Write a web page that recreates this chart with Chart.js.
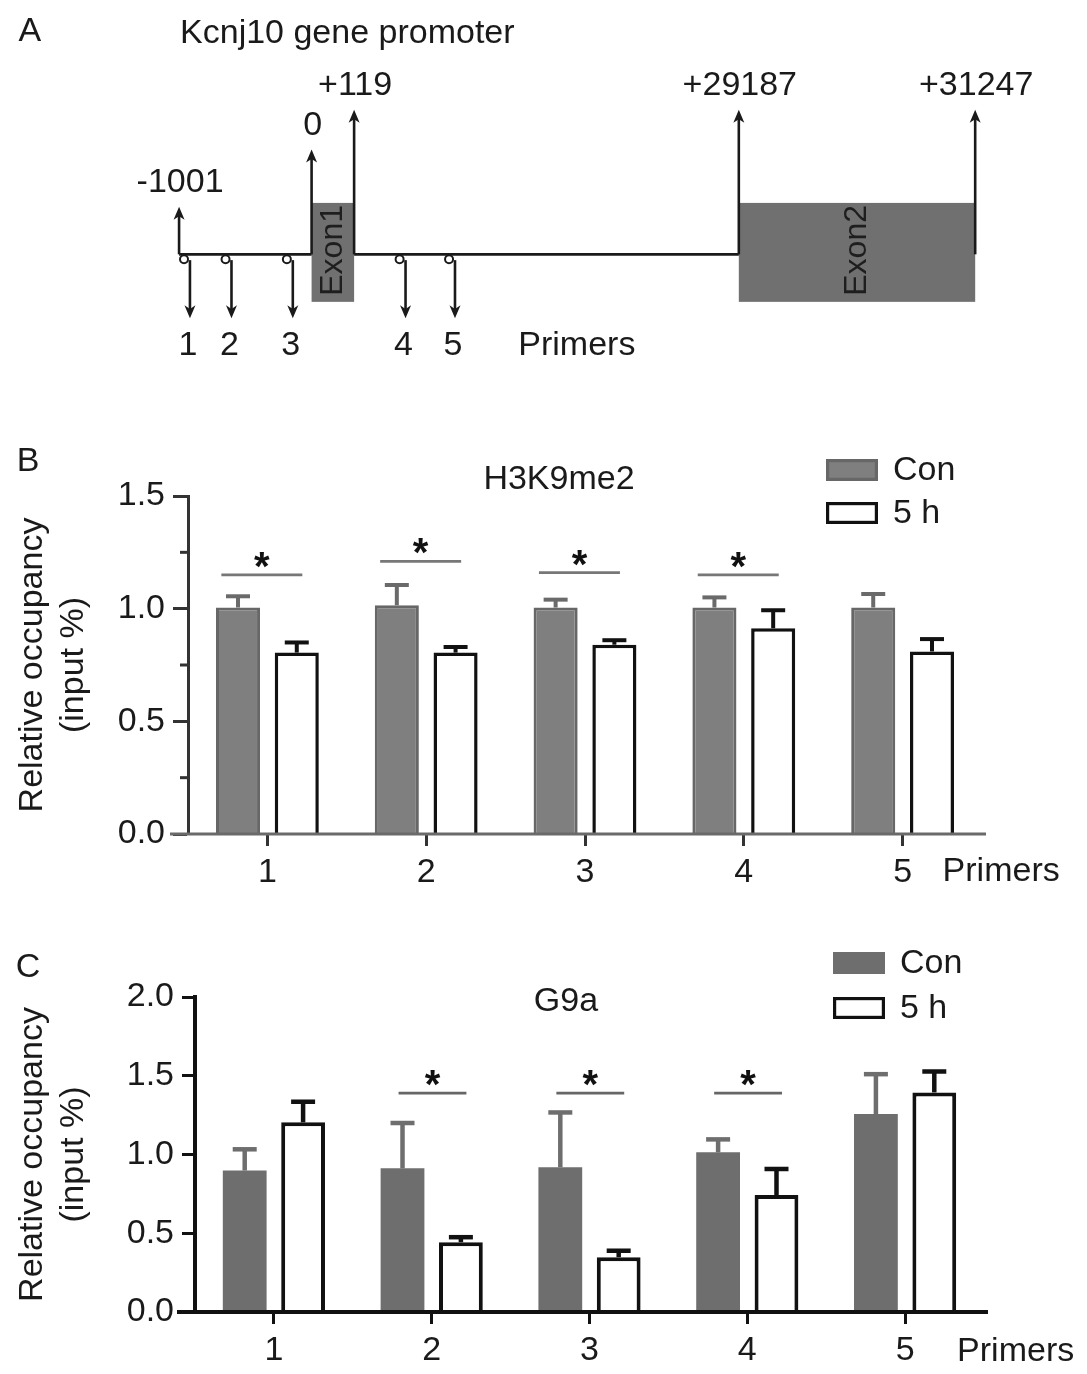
<!DOCTYPE html>
<html><head><meta charset="utf-8">
<script src="https://cdn.jsdelivr.net/npm/chart.js@4.4.1/dist/chart.umd.min.js"></script>
<style>
html,body{margin:0;padding:0;background:#fff;}
body{width:1087px;height:1374px;position:relative;overflow:hidden;}
.panel{position:absolute;left:0;width:1087px;}
</style></head><body>
<div class="panel" style="top:0;height:400px"><canvas id="cA"></canvas></div>
<div class="panel" style="top:440px;height:460px"><canvas id="cB"></canvas></div>
<div class="panel" style="top:930px;height:444px"><canvas id="cC"></canvas></div>
<script>
// ---------------- data ----------------
const primers = ['1', '2', '3', '4', '5'];
const seriesNames = ['Con', '5 h'];

// Panel B : H3K9me2 relative occupancy (input %)
const h3k9Con    = [1.005, 1.015, 1.005, 1.005, 1.005];
const h3k9ConErr = [0.050, 0.090, 0.035, 0.045, 0.060];
const h3k95h     = [0.805, 0.805, 0.840, 0.913, 0.810];
const h3k95hErr  = [0.045, 0.025, 0.020, 0.080, 0.055];
const h3k9Sig    = [1.15, 1.21, 1.16, 1.15, null];   // significance bar levels (* p<0.05)

// Panel C : G9a relative occupancy (input %)
const g9aCon    = [0.898, 0.912, 0.919, 1.014, 1.257];
const g9aConErr = [0.135, 0.288, 0.348, 0.082, 0.253];
const g9a5h     = [1.204, 0.443, 0.348, 0.743, 1.394];
const g9a5hErr  = [0.131, 0.032, 0.041, 0.165, 0.133];
const g9aSig    = [null, 1.39, 1.39, 1.39, null];

// Panel A : Kcnj10 gene map (schematic, not to scale)
const siteLabels = ['-1001', '0', '+119', '+29187', '+31247'];
const exonLabels = ['Exon1', 'Exon2'];
const primerLabels = primers;
// schematic layout (diagram units)
const siteTrackPos = [0, 134, 177, 566, 805];
const siteArrowHeight = [49, 108, 149, 149, 149];
const primerTrackPos = [11, 53, 115, 229, 279];

const FONT = "'Liberation Sans', Arial, Helvetica, sans-serif";
Chart.defaults.font.family = FONT;
Chart.defaults.color = '#1a1a1a';

// ---------------- Panel A ----------------
function vArrow(ctx, x, yFrom, yTo, w, len) {
  const dir = Math.sign(yTo - yFrom);
  ctx.beginPath(); ctx.moveTo(x, yFrom); ctx.lineTo(x, yTo - dir * len * 0.7); ctx.stroke();
  ctx.beginPath();
  ctx.moveTo(x, yTo);
  ctx.lineTo(x - w / 2, yTo - dir * len);
  ctx.lineTo(x, yTo - dir * len * 0.72);
  ctx.lineTo(x + w / 2, yTo - dir * len);
  ctx.closePath(); ctx.fill();
}

const geneMap = {
  id: 'geneMap',
  beforeDatasetsDraw(chart) {
    const {ctx, scales: {x, y}} = chart;
    ctx.save();
    const exons = [[1, 2], [3, 4]];
    ctx.fillStyle = '#707070';
    exons.forEach(([a, b], k) => {
      const xa = x.getPixelForValue(siteTrackPos[a]), xb = x.getPixelForValue(siteTrackPos[b]);
      const yt = y.getPixelForValue(53), yb = y.getPixelForValue(-49);
      ctx.fillRect(xa, yt, xb - xa, yb - yt);
      ctx.save();
      ctx.translate((xa + xb) / 2, (yt + yb) / 2 - 2);
      ctx.rotate(-Math.PI / 2);
      ctx.fillStyle = '#1e1e1e';
      ctx.font = `32px ${FONT}`;
      ctx.textAlign = 'center'; ctx.textBaseline = 'middle';
      ctx.fillText(exonLabels[k], 0, 0);
      ctx.restore();
    });
    ctx.restore();
  },
  afterDatasetsDraw(chart) {
    const {ctx, scales: {x, y}} = chart;
    ctx.save();
    ctx.strokeStyle = '#1a1a1a'; ctx.fillStyle = '#1a1a1a'; ctx.lineWidth = 2.6;
    const yb = y.getPixelForValue(0);
    siteTrackPos.forEach((p, i) => {
      const px = x.getPixelForValue(p);
      vArrow(ctx, px, yb, y.getPixelForValue(siteArrowHeight[i]), 11, 13);
      ctx.font = `34px ${FONT}`;
      ctx.textAlign = 'center'; ctx.textBaseline = 'middle';
      ctx.fillText(siteLabels[i], px + 1, y.getPixelForValue(siteArrowHeight[i] + 25));
    });
    primerTrackPos.forEach((p, i) => {
      const px = x.getPixelForValue(p);
      vArrow(ctx, px, y.getPixelForValue(-6), y.getPixelForValue(-66), 11, 13);
      ctx.font = `34px ${FONT}`;
      ctx.textAlign = 'center'; ctx.textBaseline = 'middle';
      ctx.fillText(primerLabels[i], px - 2, y.getPixelForValue(-94));
    });
    ctx.textAlign = 'left';
    ctx.fillText('Primers', x.getPixelForValue(343), y.getPixelForValue(-94));
    ctx.fillText('Kcnj10 gene promoter', x.getPixelForValue(1), y.getPixelForValue(228));
    ctx.textAlign = 'center';
    ctx.fillText('A', x.getPixelForValue(-151), y.getPixelForValue(230));
    ctx.restore();
  }
};

const backbone1 = [{x: siteTrackPos[0], y: 0}, {x: siteTrackPos[1], y: 0}];
const backbone2 = [{x: siteTrackPos[2], y: 0}, {x: siteTrackPos[3], y: 0}];
const primerLoops = primerTrackPos.map(p => ({x: p - 6, y: -5}));

new Chart(document.getElementById('cA'), {
  type: 'scatter',
  data: {datasets: [
    {data: backbone1, showLine: true, borderColor: '#1a1a1a', borderWidth: 2.8, pointRadius: 0},
    {data: backbone2, showLine: true, borderColor: '#1a1a1a', borderWidth: 2.8, pointRadius: 0},
    {data: primerLoops, showLine: false, pointRadius: 4, borderWidth: 2, borderColor: '#1a1a1a', backgroundColor: '#fff'}
  ]},
  options: {
    animation: false, responsive: true, maintainAspectRatio: false,
    layout: {padding: 0},
    plugins: {legend: {display: false}, tooltip: {enabled: false}},
    scales: {
      x: {type: 'linear', min: -175, max: 912, display: false},
      y: {type: 'linear', min: -144, max: 256, display: false}
    }
  },
  plugins: [geneMap]
});

// ---------------- Panels B & C ----------------
const barExtras = {
  id: 'barExtras',
  afterDatasetsDraw(chart, args, o) {
    const {ctx, chartArea: ca, scales: {x, y}} = chart;
    ctx.save();
    const y0 = y.getPixelForValue(0);
    ctx.strokeStyle = o.xAxisColor; ctx.lineWidth = o.axisWidth;
    ctx.beginPath(); ctx.moveTo(ca.left - 18, y0); ctx.lineTo(ca.right + 4, y0); ctx.stroke();
    ctx.strokeStyle = o.yAxisColor; ctx.lineWidth = 3;
    y.ticks.forEach(t => {
      if (t.label === '') {
        const py = y.getPixelForValue(t.value);
        ctx.beginPath(); ctx.moveTo(ca.left - 8, py); ctx.lineTo(ca.left, py); ctx.stroke();
      }
    });
    chart.data.datasets.forEach((ds, di) => {
      const meta = chart.getDatasetMeta(di);
      ctx.strokeStyle = ds.errColor; ctx.lineWidth = ds.errWidth; ctx.lineCap = 'butt';
      meta.data.forEach((bar, i) => {
        const top = y.getPixelForValue(ds.data[i] + ds.errors[i]);
        ctx.beginPath(); ctx.moveTo(bar.x, bar.y); ctx.lineTo(bar.x, top); ctx.stroke();
        ctx.beginPath(); ctx.moveTo(bar.x - o.capHalf, top); ctx.lineTo(bar.x + o.capHalf, top); ctx.stroke();
      });
    });
    const step = x.getPixelForValue(1) - x.getPixelForValue(0);
    o.sig.forEach((lv, i) => {
      if (lv == null) return;
      const cx = x.getPixelForValue(i);
      const xa = cx + o.sigFrom * step, xb = cx + o.sigTo * step;
      const py = y.getPixelForValue(lv);
      ctx.strokeStyle = o.sigColor; ctx.lineWidth = 2.6;
      ctx.beginPath(); ctx.moveTo(xa, py); ctx.lineTo(xb, py); ctx.stroke();
      ctx.fillStyle = '#111';
      ctx.font = `bold 40px ${FONT}`; ctx.textAlign = 'center'; ctx.textBaseline = 'alphabetic';
      ctx.fillText('*', (xa + xb) / 2, py + 5);
    });
    ctx.fillStyle = '#1a1a1a';
    ctx.font = `34px ${FONT}`; ctx.textAlign = 'left'; ctx.textBaseline = 'middle';
    ctx.fillText('Primers', x.getPixelForValue(primers.length - 1) + o.primersDx, y0 + o.labelDy);
    ctx.textAlign = 'center';
    ctx.fillText(o.title, o.titleX, o.titleY);
    ctx.fillText(o.letter, 28, o.letterY);
    chart.data.datasets.forEach((ds, di) => {
      const by = o.legendY[di];
      ctx.fillStyle = ds.backgroundColor;
      ctx.fillRect(o.legendX, by, 52, 22);
      ctx.strokeStyle = ds.legendBorder; ctx.lineWidth = 3.2;
      ctx.strokeRect(o.legendX + 1.6, by + 1.6, 52 - 3.2, 22 - 3.2);
      ctx.fillStyle = '#1a1a1a';
      ctx.textAlign = 'left'; ctx.textBaseline = 'middle';
      ctx.fillText(ds.label, o.legendX + 67, by + 12);
    });
    ctx.restore();
  }
};

function barChart(id, c) {
  const isMajor = v => Math.abs(v * 2 - Math.round(v * 2)) < 1e-6;
  return new Chart(document.getElementById(id), {
    type: 'bar',
    data: {labels: primers, datasets: [
      {label: seriesNames[0], data: c.con, errors: c.conErr, backgroundColor: c.conFill,
       borderColor: c.conBorder, borderWidth: c.conBW, borderSkipped: 'start',
       errColor: c.conErrColor, errWidth: c.errWidth, legendBorder: c.conBorder,
       categoryPercentage: 0.74, barPercentage: 0.75},
      {label: seriesNames[1], data: c.h5, errors: c.h5Err, backgroundColor: '#ffffff',
       borderColor: '#111111', borderWidth: c.h5BW, borderSkipped: 'start',
       errColor: '#111111', errWidth: c.errWidth, legendBorder: '#111111',
       categoryPercentage: 0.74, barPercentage: 0.75}
    ]},
    options: {
      animation: false, responsive: true, maintainAspectRatio: false,
      layout: {padding: {top: c.padTop, right: c.padRight, left: 0, bottom: 0}},
      plugins: {
        legend: {display: false}, tooltip: {enabled: false},
        barExtras: {
          xAxisColor: c.xAxisColor, yAxisColor: c.yAxisColor, axisWidth: c.axisWidth,
          capHalf: 12, sig: c.sig, sigFrom: c.sigFrom, sigTo: c.sigTo, sigColor: c.sigColor,
          primersDx: c.primersDx, labelDy: c.labelDy, title: c.title, titleX: c.titleX, titleY: c.titleY,
          letter: c.letter, letterY: c.letterY, legendX: c.legendX, legendY: c.legendY
        }
      },
      scales: {
        x: {
          grid: {display: true, drawOnChartArea: false, offset: false, tickLength: 12, tickWidth: 3, tickColor: c.yAxisColor},
          border: {display: false},
          ticks: {font: {size: 34}, color: '#1a1a1a', padding: 6, autoSkip: false, maxRotation: 0},
          afterFit(s) { s.height = c.xH; }
        },
        y: {
          min: 0, max: c.max,
          ticks: {stepSize: c.step, autoSkip: false, font: {size: 34}, color: '#1a1a1a', padding: 8,
                  callback: v => isMajor(v) ? v.toFixed(1) : ''},
          grid: {drawOnChartArea: false, tickLength: c.tickLen, tickWidth: 3,
                 tickColor: ctx => (ctx.tick && isMajor(ctx.tick.value)) ? c.yAxisColor : 'rgba(0,0,0,0)'},
          border: {display: true, width: c.axisWidth, color: c.yAxisColor},
          title: {display: true, text: ['Relative occupancy', '(input %)'], font: {size: 34}, color: '#1a1a1a', padding: {top: 12, bottom: 0}},
          afterFit(s) { s.width = c.yW; }
        }
      }
    },
    plugins: [barExtras]
  });
}

barChart('cB', {
  con: h3k9Con, conErr: h3k9ConErr, h5: h3k95h, h5Err: h3k95hErr, sig: h3k9Sig,
  conFill: '#7f7f7f', conBorder: '#676767', conBW: 3, conErrColor: '#6a6a6a', h5BW: 3.5, errWidth: 4,
  max: 1.5, step: 0.25, tickLen: 15, padTop: 56, padRight: 105, yW: 188, xH: 66,
  xAxisColor: '#6a6a6a', yAxisColor: '#333333', axisWidth: 3,
  sigFrom: -0.29, sigTo: 0.22, sigColor: '#777777',
  primersDx: 40, labelDy: 38, title: 'H3K9me2', titleX: 559, titleY: 40,
  letter: 'B', letterY: 22, legendX: 826, legendY: [19, 62]
});

barChart('cC', {
  con: g9aCon, conErr: g9aConErr, h5: g9a5h, h5Err: g9a5hErr, sig: g9aSig,
  conFill: '#6e6e6e', conBorder: '#6e6e6e', conBW: 0, conErrColor: '#6e6e6e', h5BW: 4, errWidth: 4.5,
  max: 2.0, step: 0.5, tickLen: 13, padTop: 67, padRight: 103, yW: 195, xH: 62,
  xAxisColor: '#111111', yAxisColor: '#111111', axisWidth: 4,
  sigFrom: -0.21, sigTo: 0.22, sigColor: '#666666',
  primersDx: 52, labelDy: 40, title: 'G9a', titleX: 566, titleY: 72,
  letter: 'C', letterY: 38, legendX: 833, legendY: [22, 67]
});
</script>
</body></html>
